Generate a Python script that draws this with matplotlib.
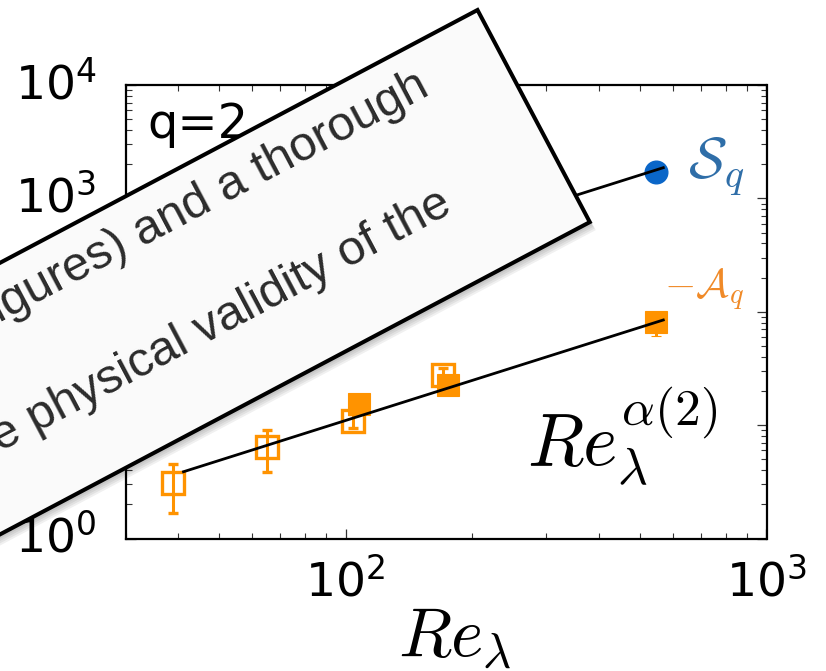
import numpy as np
import matplotlib
matplotlib.use('Agg')
import matplotlib.pyplot as plt
from matplotlib.patches import Polygon
from matplotlib import ticker, transforms

# data (Re_lambda, values)
re_open = [38.8, 64.9, 104.3, 170.7]
a_open = [3.09, 6.45, 10.9, 27.5]
a_open_lo = [1.68, 3.88, 9.4, 23.5]
a_open_hi = [4.54, 9.06, 12.5, 31.7]

re_fill = [107.6, 174.9, 546.0]
a_fill = [15.3, 22.7, 81.7]
a_fill_lo = [14.0, 21.0, 61.5]
a_fill_hi = [16.5, 24.5, 100.0]

re_s = [546.0]
s_val = [1718.0]

# power-law fits Re^alpha(2)
fit_re = [41.2, 568.6]
fit_a = [3.88, 84.6]
fit_s = [85.7, 1865.0]

orange = '#ff9300'
orange_lbl = '#f08a28'
blue = '#0a66c8'
blue_lbl = '#2f6ea8'

plt.rcParams['font.family'] = ['DejaVu Sans']

W, H = 826, 671
fig = plt.figure(figsize=(W / 100, H / 100), dpi=100)
ax = fig.add_axes([125.5 / W, 1 - 538.5 / H, 641 / W, 453.5 / H])

def pos(x, y):
    # picture pixel (from top-left) -> figure fraction
    return x / W, 1 - y / H

yerr_o = np.array([np.array(a_open) - a_open_lo, np.array(a_open_hi) - a_open])
yerr_f = np.array([np.array(a_fill) - a_fill_lo, np.array(a_fill_hi) - a_fill])

ax.errorbar(re_open, a_open, yerr=yerr_o, fmt='s', ms=16.3, mfc='none', mec=orange,
            mew=2.4, ecolor=orange, elinewidth=2.2, capsize=3.6, capthick=2.2, zorder=3)
ax.errorbar(re_fill, a_fill, yerr=yerr_f, fmt='s', ms=16.5, mfc=orange, mec=orange,
            mew=0.8, ecolor=orange, elinewidth=2.2, capsize=3.6, capthick=2.2, zorder=4)
ax.plot(re_s, s_val, 'o', ms=16.3, color=blue, zorder=4)
ax.plot(fit_re, fit_a, 'k-', lw=2, zorder=5)
ax.plot(fit_re, fit_s, 'k-', lw=2, zorder=5)

ax.set_xscale('log')
ax.set_yscale('log')
ax.set_xlim(30, 1000)
ax.set_ylim(1, 1e4)
for axis in (ax.xaxis, ax.yaxis):
    axis.set_major_locator(ticker.LogLocator(base=10, numticks=20))
    axis.set_minor_locator(ticker.LogLocator(base=10, subs=np.arange(2, 10), numticks=100))
    axis.set_minor_formatter(ticker.NullFormatter())
ax.tick_params(which='both', direction='in', top=True, right=True, colors='#333333',
               labelcolor='black', labelsize=34)
ax.tick_params(which='major', length=7, width=0.9)
ax.tick_params(which='minor', length=4, width=0.8)
ax.tick_params(axis='x', pad=15)
ax.tick_params(axis='y', pad=21)
for s in ax.spines.values():
    s.set_linewidth(1.6)

# nudge y tick labels up a little
lift = transforms.ScaledTranslation(0, 5 / 100, fig.dpi_scale_trans)
for t in ax.yaxis.get_major_ticks():
    t.label1.set_transform(t.label1.get_transform() + lift)

fig.text(*pos(147, 138), 'q=2', fontsize=34.5, ha='left', va='baseline')
fig.text(*pos(527, 465), r'$Re_\lambda^{\alpha(2)}$', fontsize=53, math_fontfamily='cm',
         ha='left', va='baseline')
fig.text(*pos(688, 178), r'$\mathcal{S}_q$', fontsize=41, color=blue_lbl,
         math_fontfamily='cm', ha='left', va='baseline')
fig.text(*pos(664, 298), r'$-\mathcal{A}_q$', fontsize=29, color=orange_lbl,
         math_fontfamily='cm', ha='left', va='baseline')
fig.text(*pos(398, 657), r'$Re_\lambda$', fontsize=50, math_fontfamily='cm',
         ha='left', va='baseline')

# tilted paper clipping laid over the plot
th = np.deg2rad(27.9)
U = np.array([np.cos(th), -np.sin(th)])
N = np.array([np.sin(th), np.cos(th)])
TR = np.array([477.5, 10.0])
h, L = 240, 1000
corners = [TR, TR + h * N, TR + h * N - L * U, TR - L * U]

# soft shadow: thin bands along the lower and right edges only
for k in range(1, 6):
    off = np.array([1.2 * k, 1.6 * k])
    band = [corners[0] + off, corners[1] + off, corners[2] + off, corners[2], corners[1], corners[0]]
    fig.add_artist(Polygon([pos(*c) for c in band], closed=True, transform=fig.transFigure,
                           facecolor=(0, 0, 0, 0.06), edgecolor='none', zorder=9))
fig.add_artist(Polygon([pos(*c) for c in corners], closed=True, transform=fig.transFigure,
                       facecolor='#fafafa', edgecolor='black',
                       lw=2.9, joinstyle='miter', zorder=10))

fig.text(*pos(431, 94.3), 'figures) and a thorough', rotation=27.9, rotation_mode='anchor',
         ha='right', va='baseline', fontsize=35, family='Liberation Sans',
         color='#2b2b2b', zorder=11)
fig.text(*pos(454, 211.5), 'the physical validity of the', rotation=27.9,
         rotation_mode='anchor', ha='right', va='baseline', fontsize=35,
         family='Liberation Sans', color='#2b2b2b', zorder=11)

fig.savefig('out.png', dpi=100)
